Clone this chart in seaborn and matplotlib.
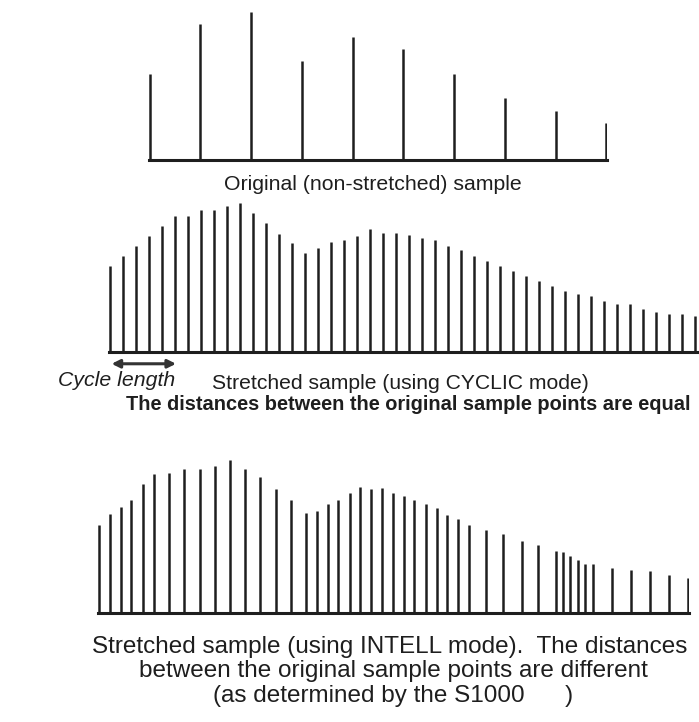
import matplotlib
matplotlib.use('Agg')
import matplotlib.pyplot as plt
import seaborn as sns

# original sample: 10 points, equally spaced
orig_heights = [86, 136, 148, 99, 123, 111, 86, 62, 49, 37]

# cyclic mode: 46 points, equally spaced (5 per original interval)
cyclic_heights = [86, 96, 106, 116, 126, 136, 136, 142, 142, 146,
                  149, 139, 129, 118, 109, 99, 104, 110, 112, 116,
                  123, 119, 119, 117, 114, 112, 106, 102, 96, 91,
                  86, 81, 76, 71, 66, 61, 58, 56, 51, 48,
                  48, 43, 40, 38, 38, 36]

# intell mode: 46 points, uneven spacing
intell_pos = [0, 11.4, 22.1, 32.8, 44.2, 54.9, 69.9, 85.7, 100.8, 116.2,
              131.2, 146.6, 161.6, 177.0, 192.1, 207.5, 218.2, 228.8, 239.5, 251.0,
              261.2, 271.9, 283.0, 293.6, 304.7, 315.4, 326.5, 337.5, 347.8, 358.9,
              369.9, 387.3, 403.9, 422.5, 438.7, 456.5, 463.6, 470.7, 478.2, 486.1,
              493.6, 512.6, 531.2, 550.2, 569.9, 588.5]
intell_heights = [88, 99, 106, 113, 129, 139, 140, 144, 144, 147,
                  153, 144, 136, 124, 113, 100, 102, 109, 113, 120,
                  126, 124, 125, 120, 117, 113, 109, 105, 98, 94,
                  88, 83, 79, 72, 68, 62, 61, 57, 53, 49,
                  49, 45, 43, 42, 38, 35]

sns.set_theme(style='white')
plt.rcParams['font.family'] = ['Liberation Sans', 'DejaVu Sans']

W, H = 699, 722
fig = plt.figure(figsize=(W / 100, H / 100), dpi=100)
ink = '#1e1e1e'


def panel(box, xs, hs, xlim, ylim):
    l, r, base, top = box
    ax = fig.add_axes([l / W, 1 - base / H, (r - l) / W, (base - top) / H])
    ax.vlines(xs, 0, hs, color=ink, linewidth=1.8)
    ax.set_xlim(*xlim)
    ax.set_ylim(*ylim)
    ax.set_xticks([])
    ax.set_yticks([])
    for s in ['top', 'left', 'right']:
        ax.spines[s].set_visible(False)
    ax.spines['bottom'].set_color(ink)
    ax.spines['bottom'].set_linewidth(2.2)
    ax.patch.set_alpha(0)
    return ax


ax1 = panel((149, 607, 160, 5), range(len(orig_heights)), orig_heights,
            (-0.01, 9.01), (0, 155))
ax2 = panel((109, 699, 352, 195), range(len(cyclic_heights)), cyclic_heights,
            (-0.05, 45.3), (0, 157))
ax3 = panel((98, 689, 613, 455), intell_pos, intell_heights,
            (-0.6, 589.5), (0, 158))

# cycle length arrow (one cycle = 5 stretched points)
ax2.annotate('', xy=(0.15, -0.075), xytext=(5.1, -0.075),
             xycoords=('data', 'axes fraction'), textcoords=('data', 'axes fraction'),
             arrowprops=dict(arrowstyle='<|-|>', color='#333333', lw=2.2,
                             mutation_scale=12, shrinkA=0, shrinkB=0))

fig.text(373 / W, 1 - 185 / H, 'Original (non-stretched) sample', ha='center', va='center',
         fontsize=15.3, color=ink)
fig.text(58 / W, 1 - 380 / H, 'Cycle length', ha='left', va='center',
         fontsize=15.3, style='italic', color=ink)
fig.text(400 / W, 1 - 383 / H, 'Stretched sample (using CYCLIC mode)', ha='center',
         va='center', fontsize=15.2, color=ink)
fig.text(408 / W, 1 - 404 / H, 'The distances between the original sample points are equal',
         ha='center', va='center', fontsize=14.4, fontweight='bold', color=ink)
fig.text(390 / W, 1 - 647 / H, 'Stretched sample (using INTELL mode).  The distances',
         ha='center', va='center', fontsize=17.5, color=ink)
fig.text(393 / W, 1 - 671 / H, 'between the original sample points are different',
         ha='center', va='center', fontsize=17.5, color=ink)
fig.text(213 / W, 1 - 696 / H, '(as determined by the S1000      )',
         ha='left', va='center', fontsize=17.5, color=ink)

fig.savefig('out.png', dpi=100, facecolor='white')
